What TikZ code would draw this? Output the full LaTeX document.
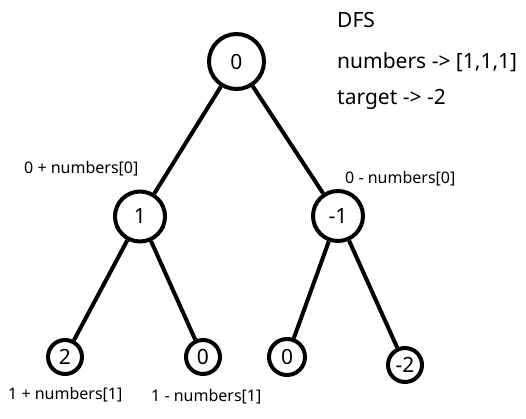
\documentclass[tikz,border=0pt]{standalone}
\usepackage{fontspec}
\setmainfont{Noto Sans}

\begin{document}
\begin{tikzpicture}[x=1pt,y=-1pt]
\useasboundingbox (0,0) rectangle (526,419);
\begin{scope}[every node/.style={circle,draw,line width=4pt,inner sep=0pt,minimum size=50pt,font=\fontsize{21}{25}\selectfont}]
    \node (R) at (236.5,61.5) [minimum size=55pt] {0};
    \node (A) at (140,216.5) {1};
    \node (B) at (338,216) {-1};
    \node (AA) at (65,357) [minimum size=34pt] {2};
    \node (AB) at (203,357) [minimum size=34pt] {0};
    \node (BA) at (287,357) [minimum size=36pt] {0};
    \node (BB) at (405,365) [minimum size=34pt] {-2};
\end{scope}

\begin{scope}[every edge/.style={draw=black,line width=4pt}]
    \path  (R) edge (A);
    \path  (R) edge (B);
    \path  (A) edge (AA);
    \path  (A) edge (AB);
    \path  (B) edge (BA);
    \path  (B) edge (BB);
\end{scope}

\begin{scope}[every node/.style={anchor=base west,inner sep=0pt,font=\fontsize{16}{19}\selectfont}]
    \node (lA) at (24,174) {0 + numbers[0]};
    \node (lB) at (345,184) {0 - numbers[0]};
    \node (lAA) at (8,399) {1 + numbers[1]};
    \node (lAB) at (151,401) {1 - numbers[1]};
\end{scope}

\begin{scope}[every node/.style={anchor=base west,inner sep=0pt,font=\fontsize{21}{25}\selectfont}]
    \node (title) at (337,27.7) {DFS};
    \node (nums) at (337,68.3) {numbers -> [1,1,1]};
    \node (goal) at (337,105) {target -> -2};
\end{scope}
\end{tikzpicture}
\end{document}
